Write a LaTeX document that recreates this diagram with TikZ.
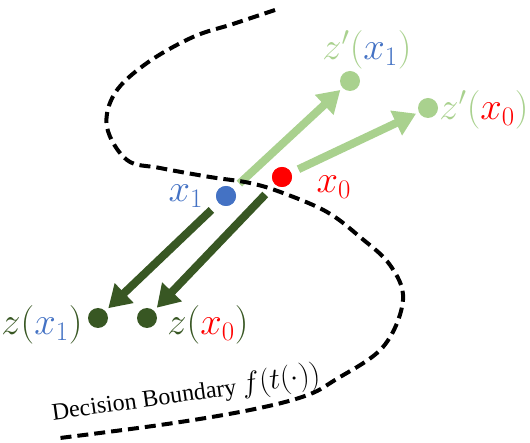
\documentclass[tikz,border=0pt]{standalone}
\usepackage{fontspec}
\setmainfont{Liberation Serif}
\usetikzlibrary{arrows.meta}
\definecolor{lgreen}{RGB}{169,209,142}
\definecolor{dgreen}{RGB}{56,87,35}
\definecolor{mblue}{RGB}{68,114,196}
\definecolor{mred}{RGB}{255,0,0}
\newcommand{\lblmath}[1]{\scalebox{1.55}{$#1$}}
\begin{document}
\begin{tikzpicture}[x=1pt,y=-1pt,
  dot/.style={circle,inner sep=0pt,minimum size=20pt},
  lbl/.style={inner sep=0pt,font=\fontsize{24}{28}\selectfont},
  larr/.style={lgreen,line width=8pt,-{Triangle[width=26pt,length=22pt]},shorten >=3pt,shorten <=8pt},
  darr/.style={dgreen,line width=8pt,-{Triangle[width=26pt,length=22pt]},shorten >=4pt},
  boundary/.style={black,line width=4pt,dash pattern=on 11pt off 6pt}]
\useasboundingbox (0,0) rectangle (530,443);
\node[dot,fill=mblue] (x1) at (226,196) {};
\node[dot,fill=mred] (x0) at (282,177) {};
\node[dot,fill=lgreen] (zp1) at (350,81) {};
\node[dot,fill=lgreen] (zp0) at (428,108) {};
\node[dot,fill=dgreen] (z1) at (98,318) {};
\node[dot,fill=dgreen] (z0) at (147,318) {};
\draw[larr] (x1) -- (zp1);
\draw[larr] (x0) -- (zp0);
\draw[darr,shorten <=10pt] (x1) -- (z1);
\draw[darr,shorten <=14pt] (x0) -- (z0);
\draw[boundary] plot[smooth,tension=0.6] coordinates {
 (275,10) (233,24) (193,37) (147,63) (115,93) (107,127) (127,160) (160,168) (210,177)
 (250,183) (283,193) (327,212) (360,237) (390,265) (403,300) (383,347) (335,380)
 (305,396) (250,410) (167,424) (60,438)};
\node[dot,fill=mblue] at (x1) {};
\node[dot,fill=mred] at (x0) {};
\node[lbl,text=mblue] (lx1) at (186,196) {\lblmath{x_1}};
\node[lbl,text=mred] (lx0) at (334,187) {\lblmath{x_0}};
\node[lbl,text=lgreen] (lzp1) at (367,50) {\lblmath{z'(\textcolor{mblue}{x_1})}};
\node[lbl,text=lgreen] (lzp0) at (484,110) {\lblmath{z'(\textcolor{mred}{x_0})}};
\node[lbl,text=dgreen] (lz1) at (42,325) {\lblmath{z(\textcolor{mblue}{x_1})}};
\node[lbl,text=dgreen] (lz0) at (208,325) {\lblmath{z(\textcolor{mred}{x_0})}};
\node[inner sep=0pt,font=\fontsize{24}{28}\selectfont,rotate=8] (db) at (186,394) {Decision Boundary \scalebox{1.2}{$f(t(\cdot))$}};
\end{tikzpicture}
\end{document}
